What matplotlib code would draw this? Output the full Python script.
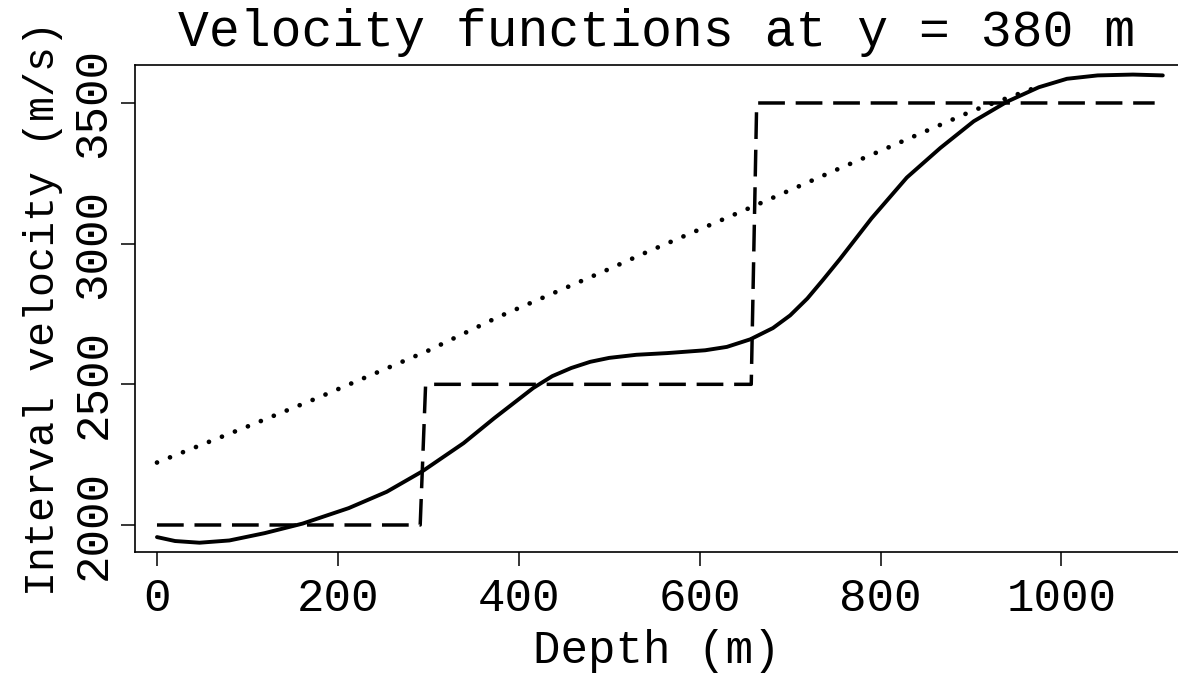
import matplotlib
matplotlib.use("Agg")
import matplotlib.pyplot as plt

# Data
depth_solid = [0, 20, 47, 80, 119, 161, 212, 254, 293, 339, 373, 416, 437, 458, 479,
               500, 530, 564, 606, 630, 656, 681, 700, 719, 736, 755, 790, 829, 866,
               903, 940, 975, 1006, 1040, 1079, 1112]
vel_solid = [1957, 1943, 1937, 1945, 1971, 2005, 2060, 2118, 2190, 2291, 2380, 2487,
             2529, 2558, 2580, 2594, 2605, 2611, 2621, 2633, 2660, 2700, 2745, 2805,
             2870, 2945, 3090, 3235, 3340, 3435, 3505, 3556, 3586, 3598, 3601, 3598]

depth_dashed = [0, 291, 297, 657, 663, 1103]
vel_dashed = [2000, 2000, 2500, 2500, 3500, 3500]

depth_dotted = [0, 100, 177, 300, 377, 500, 538, 656, 755, 800, 903, 976]
vel_dotted = [2222, 2350, 2451, 2620, 2739, 2910, 2965, 3128, 3268, 3330, 3474, 3560]

xticks = [0, 200, 400, 600, 800, 1000]
yticks = [2000, 2500, 3000, 3500]

title = "Velocity functions at y = 380 m"
xlabel = "Depth (m)"
ylabel = "Interval velocity (m/s)"

plt.rcParams['font.family'] = ['Liberation Mono', 'DejaVu Sans Mono']

fig = plt.figure(figsize=(11.78, 6.84), dpi=100)
ax = fig.add_axes([135/1178, 1 - 552/684, 1 - 135/1178, (552 - 65)/684])

ax.plot(depth_solid, vel_solid, color='black', lw=2.8,
        solid_capstyle='round', solid_joinstyle='round')
ax.plot(depth_dashed, vel_dashed, color='black', lw=2.5,
        linestyle=(0, (7.7, 3.1)), dash_capstyle='butt')
ax.plot(depth_dotted, vel_dotted, color='black', lw=3.4,
        linestyle=(0, (0.01, 2.95)), dash_capstyle='round')

ax.set_xlim(-24.3, 1128.8)
ax.set_ylim(1904, 3635)

ax.spines['right'].set_visible(False)
for s in ['left', 'top', 'bottom']:
    ax.spines[s].set_linewidth(1.2)

ax.set_xticks(xticks)
ax.set_xticklabels([str(t) for t in xticks], fontsize=33)
ax.set_yticks(yticks)
ax.set_yticklabels([str(t) for t in yticks], fontsize=33, rotation=90, va='center')
ax.tick_params(axis='both', direction='out', length=10, width=1.1)
ax.tick_params(axis='x', pad=8)
ax.tick_params(axis='y', pad=4)

ax.set_xlabel(xlabel, fontsize=33, labelpad=6)
ax.set_ylabel(ylabel, fontsize=30, labelpad=6)
ax.set_title(title, fontsize=37, pad=14)

fig.savefig("out.png", dpi=100)
